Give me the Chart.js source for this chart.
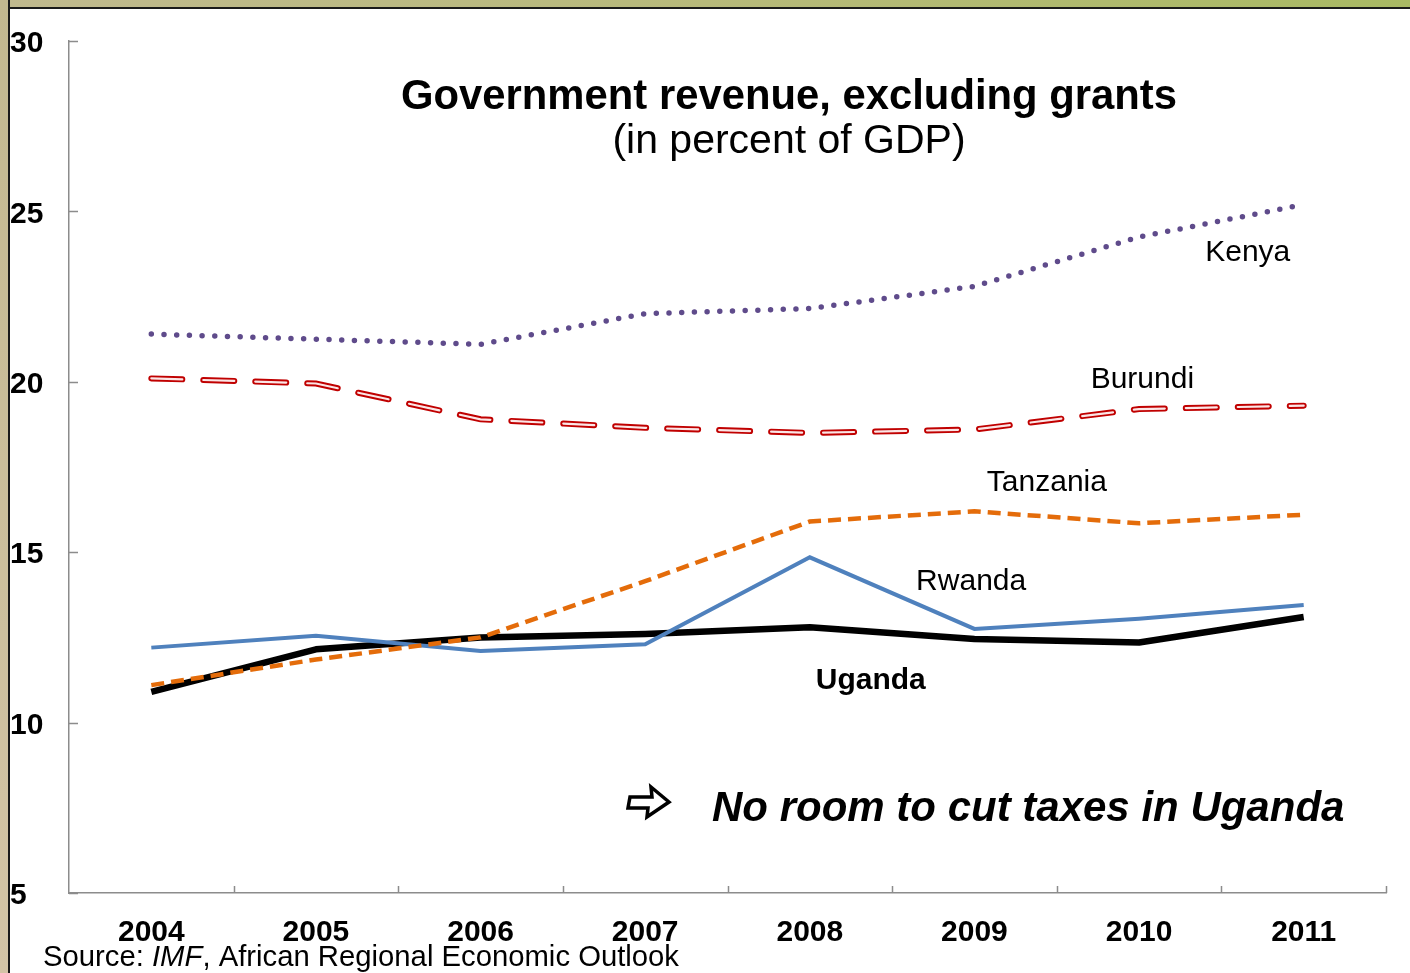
<!DOCTYPE html>
<html>
<head>
<meta charset="utf-8">
<title>Government revenue, excluding grants</title>
<script src="https://cdn.jsdelivr.net/npm/chart.js@4.4.1/dist/chart.umd.min.js"></script>
<style>
    html, body { margin: 0; padding: 0; background: #fff; overflow: hidden; }
    #wrap { position: relative; width: 1410px; height: 973px; }
    #chart { position: absolute; left: 0; top: 0; }
    .band-top { position: absolute; left: 0; top: 0; width: 1410px; height: 7px; background: linear-gradient(to right, #c0b98e, #b7b97a 50%, #a9b963); border-bottom: 2px solid #1a1a1a; }
    .band-left { position: absolute; left: 0; top: 0; width: 8px; height: 973px; background: linear-gradient(to bottom, #c2b88f, #d3c4a6); border-right: 2px solid #1a1a1a; }
</style>
</head>
<body>
<div id="wrap">
    <canvas id="chart" width="1410" height="973"></canvas>
    <div class="band-top"></div>
    <div class="band-left"></div>
</div>
<script>
const years = ['2004', '2005', '2006', '2007', '2008', '2009', '2010', '2011'];
const kenya = [21.4, 21.25, 21.1, 22.0, 22.15, 22.8, 24.25, 25.2];
const burundi = [20.1, 19.95, 18.9, 18.65, 18.5, 18.6, 19.2, 19.3];
const tanzania = [11.1, 11.85, 12.5, 14.15, 15.9, 16.2, 15.85, 16.1];
const rwanda = [12.2, 12.55, 12.1, 12.3, 14.85, 12.75, 13.05, 13.45];
const uganda = [10.9, 12.15, 12.5, 12.6, 12.8, 12.45, 12.35, 13.1];
const yTicks = [5, 10, 15, 20, 25, 30];

const FONT = '"Liberation Sans", Arial, sans-serif';

// country names sit next to their lines: [text, category index, value, bold]
const seriesLabels = [
    ['Kenya', 6.66, 23.78, false],
    ['Burundi', 6.02, 20.05, false],
    ['Tanzania', 5.44, 17.03, false],
    ['Rwanda', 4.98, 14.12, false],
    ['Uganda', 4.37, 11.22, true]
];

// small tick marks drawn inward from both axes
const innerTicks = {
    id: 'innerTicks',
    afterDatasetsDraw(chart) {
        const { ctx, scales: { x, y } } = chart;
        ctx.save();
        ctx.strokeStyle = '#8c8c8c';
        ctx.lineWidth = 1.5;
        ctx.beginPath();
        yTicks.forEach(v => {
            const py = Math.round(y.getPixelForValue(v)) + 0.5;
            ctx.moveTo(x.left, py);
            ctx.lineTo(x.left + 9, py);
        });
        const half = (x.getPixelForValue(1) - x.getPixelForValue(0)) / 2;
        years.forEach((yr, i) => {
            const px = Math.round(x.getPixelForValue(i) + half) + 0.5;
            ctx.moveTo(px, y.bottom);
            ctx.lineTo(px, y.bottom - 7);
        });
        ctx.stroke();
        ctx.restore();
    }
};

const textLayer = {
    id: 'textLayer',
    afterDraw(chart) {
        const { ctx, scales: { x, y } } = chart;
        ctx.save();
        ctx.fillStyle = '#000';
        ctx.textBaseline = 'middle';
        ctx.textAlign = 'center';

        ctx.font = 'bold 42px ' + FONT;
        ctx.fillText('Government revenue, excluding grants', 789, 97, 776);
        ctx.font = '41px ' + FONT;
        ctx.fillText('(in percent of GDP)', 789, 142, 358);

        seriesLabels.forEach(([txt, xi, v, bold]) => {
            ctx.font = (bold ? 'bold ' : '') + '30px ' + FONT;
            ctx.fillText(txt, x.getPixelForValue(xi), y.getPixelForValue(v));
        });

        ctx.textAlign = 'left';
        ctx.font = 'italic bold 42px ' + FONT;
        ctx.fillText('No room to cut taxes in Uganda', 712, 809, 640);

        // outlined arrow in front of the note
        ctx.strokeStyle = '#000';
        ctx.lineWidth = 3.5;
        ctx.lineJoin = 'miter';
        ctx.beginPath();
        ctx.moveTo(630, 797);
        ctx.lineTo(652, 797);
        ctx.lineTo(651, 787);
        ctx.lineTo(669, 802);
        ctx.lineTo(647, 817);
        ctx.lineTo(648, 808);
        ctx.lineTo(628, 808);
        ctx.closePath();
        ctx.stroke();

        const parts = [['Source: ', ''], ['IMF', 'italic '], [', African Regional Economic Outlook', '']];
        let total = 0;
        parts.forEach(([t, s]) => { ctx.font = s + '30px ' + FONT; total += ctx.measureText(t).width; });
        const squeeze = Math.min(1, 636 / total);
        ctx.translate(43, 958);
        ctx.scale(squeeze, 1);
        let cx = 0;
        parts.forEach(([t, s]) => {
            ctx.font = s + '30px ' + FONT;
            ctx.fillText(t, cx, 0);
            cx += ctx.measureText(t).width;
        });
        ctx.restore();
    }
};

const line = (label, data, color, width, extra) => Object.assign({
    label, data,
    borderColor: color,
    borderWidth: width,
    pointRadius: 0,
    tension: 0,
    fill: false
}, extra || {});

new Chart(document.getElementById('chart'), {
    type: 'line',
    data: {
        labels: years,
        datasets: [
            line('Tanzania', tanzania, '#e46c0a', 4.5, { borderDash: [13, 7] }),
            line('Rwanda', rwanda, '#4f81bd', 4),
            line('Kenya', kenya, '#5f4b8b', 5.5, { borderDash: [0, 12.7], borderCapStyle: 'round' }),
            line('Burundi', burundi, '#fbe6e6', 2.2, { borderDash: [31, 21], borderCapStyle: 'round' }),
            line('Burundi', burundi, '#c00000', 6, { borderDash: [31, 21], borderCapStyle: 'round' }),
            line('Uganda', uganda, '#000000', 6.5, { borderJoinStyle: 'round' })
        ]
    },
    options: {
        responsive: false,
        animation: false,
        layout: { padding: { left: 10, top: 41, right: 24, bottom: 0 } },
        plugins: { legend: { display: false }, tooltip: { enabled: false }, title: { display: false } },
        scales: {
            x: {
                offset: true,
                grid: { display: false, drawTicks: false },
                border: { display: true, color: '#8c8c8c', width: 1.5 },
                ticks: { color: '#000', font: { family: FONT, size: 30, weight: 'bold' }, padding: 22, maxRotation: 0 },
                afterFit: s => { s.height = 80; }
            },
            y: {
                min: 5,
                max: 30,
                afterBuildTicks: s => { s.ticks = yTicks.map(v => ({ value: v })); },
                grid: { display: false, drawTicks: false },
                border: { display: true, color: '#8c8c8c', width: 1.5 },
                ticks: { color: '#000', crossAlign: 'far', labelOffset: 3, font: { family: FONT, size: 30, weight: 'bold' } },
                afterFit: s => { s.width = 59; }
            }
        }
    },
    plugins: [innerTicks, textLayer]
});
</script>
</body>
</html>
